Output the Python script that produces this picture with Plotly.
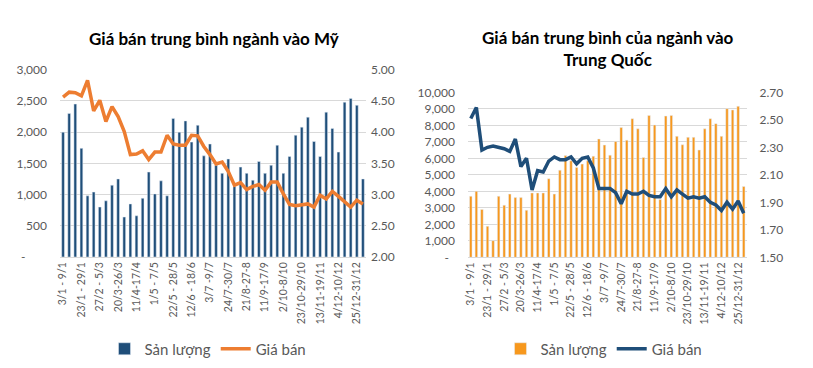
import plotly.graph_objects as go

weeks = ["3/1 - 9/1", "10/1 - 16/1", "17/1 - 22/1", "23/1 - 29/1", "6/2 - 12/2", "20/2 - 26/2",
         "27/2 - 5/3", "6/3 - 12/3", "13/3 - 19/3", "20/3-26/3", "27/3-2/4", "3/4-10/4",
         "11/4-17/4", "18/4-24/4", "25/4-30/4", "1/5 - 7/5", "8/5-14/5", "15/5-21/5",
         "22/5 - 28/5", "29/5-4/6", "5/6-11/6", "12/6 - 18/6", "19/6-25/6", "26/6-2/7",
         "3/7 -9/7", "10/7-16/7", "17/7-23/7", "24/7-30/7", "31/7-6/8", "14/8-20/8",
         "21/8-27-8", "28/8-3/9", "4/9-10/9", "11/9-17/9", "18/9-24/9", "25/9-1/10",
         "2/10-8/10", "9/10-15/10", "16/10-22/10", "23/10-29/10", "30/10-5/11", "6/11-12/11",
         "13/11-19/11", "20/11-26/11", "27/11-3/12", "4/12-10/12", "11/12-17/12", "18/12-24/12",
         "25/12-31/12", "1/1-7/1"]
shown_weeks = weeks[0:49:3]

us_volume = [2000, 2300, 2450, 1740, 980, 1040, 800, 900, 1150, 1250,
             640, 850, 660, 940, 1360, 1010, 1220, 980, 2220, 2000,
             2180, 1840, 2110, 1620, 1810, 1470, 1340, 1570, 1130, 1440,
             1340, 1230, 1530, 1340, 1470, 1790, 1340, 1610, 1950, 2080,
             2240, 1850, 1610, 2320, 2060, 1680, 2480, 2540, 2430, 1250]
us_price = [4.56, 4.64, 4.63, 4.58, 4.83, 4.34, 4.51, 4.17, 4.41, 4.25,
            4.01, 3.64, 3.65, 3.70, 3.56, 3.68, 3.68, 3.95, 3.81, 3.79,
            3.79, 3.95, 3.94, 3.77, 3.64, 3.49, 3.52, 3.37, 3.15, 3.19,
            3.08, 3.13, 3.16, 3.07, 3.20, 3.20, 3.01, 2.84, 2.82, 2.84,
            2.85, 2.80, 2.99, 2.93, 3.05, 2.97, 2.88, 2.80, 2.91, 2.85]

cn_volume = [3700, 4000, 2900, 1880, 1010, 3700, 3160, 3830, 3620, 3620,
             2850, 3900, 3900, 3900, 4760, 3830, 5280, 6170, 5850, 5450,
             5650, 5850, 6130, 7170, 6800, 6190, 7020, 7870, 7100, 8400,
             7790, 6050, 8600, 8020, 3500, 8560, 8600, 7330, 6820, 7270,
             7270, 6500, 7790, 8400, 8100, 7330, 9010, 8930, 9150, 4290]
cn_price = [2.51, 2.59, 2.28, 2.30, 2.31, 2.30, 2.29, 2.27, 2.36, 2.16,
            2.22, 1.99, 2.13, 2.12, 2.20, 2.23, 2.21, 2.21, 2.23, 2.18,
            2.22, 2.23, 2.15, 2.00, 2.00, 2.00, 1.97, 1.89, 1.98, 1.96,
            1.96, 1.98, 1.95, 1.94, 1.94, 2.00, 1.94, 1.99, 1.96, 1.93,
            1.94, 1.93, 1.94, 1.90, 1.88, 1.84, 1.90, 1.85, 1.91, 1.82]

us_vol_ticks = [0, 500, 1000, 1500, 2000, 2500, 3000]
us_vol_text = ["-\u00a0\u00a0\u00a0\u00a0\u00a0\u00a0\u00a0", "500", "1,000", "1,500", "2,000", "2,500", "3,000"]
us_price_ticks = [2.0, 2.5, 3.0, 3.5, 4.0, 4.5, 5.0]
cn_vol_ticks = [0, 1000, 2000, 3000, 4000, 5000, 6000, 7000, 8000, 9000, 10000]
cn_vol_text = ["-\u00a0\u00a0", "1,000", "2,000", "3,000", "4,000", "5,000", "6,000", "7,000", "8,000", "9,000", "10,000"]
cn_price_ticks = [1.5, 1.7, 1.9, 2.1, 2.3, 2.5, 2.7]

NAVY = "#1F4E79"
ORANGE_LINE = "#ED7D31"
ORANGE_BAR = "#F7981D"
GRAY = "#595959"
GRID = "#D9D9D9"
FONT = "Lato, 'Open Sans', sans-serif"

W, H = 813, 368
def px(x):
    return x / W
def py(y):
    return 1 - y / H

fig = go.Figure()
fig.add_trace(go.Bar(x=weeks, y=us_volume, name="Sản lượng", marker_color=NAVY,
                     xaxis="x", yaxis="y", legend="legend"))
fig.add_trace(go.Scatter(x=weeks, y=us_price, name="Giá bán", mode="lines",
                         line=dict(color=ORANGE_LINE, width=3.5),
                         xaxis="x", yaxis="y2", legend="legend"))
fig.add_trace(go.Bar(x=weeks, y=cn_volume, name="Sản lượng", marker_color=ORANGE_BAR,
                     xaxis="x2", yaxis="y3", legend="legend2"))
fig.add_trace(go.Scatter(x=weeks, y=cn_price, name="Giá bán", mode="lines",
                         line=dict(color=NAVY, width=3.5),
                         xaxis="x2", yaxis="y4", legend="legend2"))

tickfont = dict(family=FONT, size=10.5, color=GRAY)
yfont = dict(family=FONT, size=12, color=GRAY)
xcommon = dict(type="category", tickmode="array", tickvals=shown_weeks, ticktext=shown_weeks,
               tickangle=-90, tickfont=tickfont, showgrid=False, showline=True,
               linecolor=GRID, linewidth=1, ticks="", automargin=False, fixedrange=True)

fig.update_layout(
    width=W, height=H,
    margin=dict(l=0, r=0, t=0, b=0),
    paper_bgcolor="white", plot_bgcolor="white",
    bargap=0.55,
    showlegend=True,
    xaxis=dict(domain=[px(52), px(358)], anchor="y", **xcommon),
    yaxis=dict(domain=[py(249), py(61.7)], range=[0, 3000], tickmode="array",
               tickvals=us_vol_ticks, ticktext=us_vol_text, tickfont=yfont,
               showgrid=True, gridcolor=GRID, zeroline=False, ticklabelstandoff=12,
               automargin=False, fixedrange=True),
    yaxis2=dict(domain=[py(249), py(61.7)], overlaying="y", side="right", anchor="x",
                range=[2.0, 5.0], tickmode="array", tickvals=us_price_ticks,
                ticktext=[f"{v:.2f}" for v in us_price_ticks],
                tickfont=yfont, showgrid=False, zeroline=False,
                ticklabelstandoff=4, automargin=False, fixedrange=True),
    xaxis2=dict(domain=[px(460), px(738.5)], anchor="y3", **xcommon),
    yaxis3=dict(domain=[py(249.3), py(84.3)], anchor="x2", range=[0, 10000], tickmode="array",
                tickvals=cn_vol_ticks, ticktext=cn_vol_text, tickfont=yfont,
                showgrid=True, gridcolor=GRID, zeroline=False, ticklabelstandoff=12,
                automargin=False, fixedrange=True),
    yaxis4=dict(domain=[py(249.3), py(84.3)], overlaying="y3", side="right", anchor="x2",
                range=[1.5, 2.7], tickmode="array", tickvals=cn_price_ticks,
                ticktext=[f"{v:.2f}" for v in cn_price_ticks],
                tickfont=yfont, showgrid=False, zeroline=False,
                ticklabelstandoff=12, automargin=False, fixedrange=True),
    legend=dict(orientation="h", x=px(200), xanchor="center", y=py(341), yanchor="middle",
                font=dict(family=FONT, size=15, color=GRAY), bgcolor="rgba(0,0,0,0)",
                itemwidth=30, tracegroupgap=0),
    legend2=dict(orientation="h", x=px(596), xanchor="center", y=py(341), yanchor="middle",
                 font=dict(family=FONT, size=15, color=GRAY), bgcolor="rgba(0,0,0,0)",
                 itemwidth=30, tracegroupgap=0),
    annotations=[
        dict(text="<b>Giá bán trung bình ngành vào Mỹ</b>", x=px(206), y=py(30),
             xref="paper", yref="paper", xanchor="center", yanchor="middle", showarrow=False,
             font=dict(family=FONT, size=17, color="#000000")),
        dict(text="<b>Giá bán trung bình của ngành vào<br>Trung Quốc</b>", x=px(600), y=py(40),
             xref="paper", yref="paper", xanchor="center", yanchor="middle", showarrow=False,
             font=dict(family=FONT, size=17, color="#000000")),
    ],
)

fig.write_html("out.html")
